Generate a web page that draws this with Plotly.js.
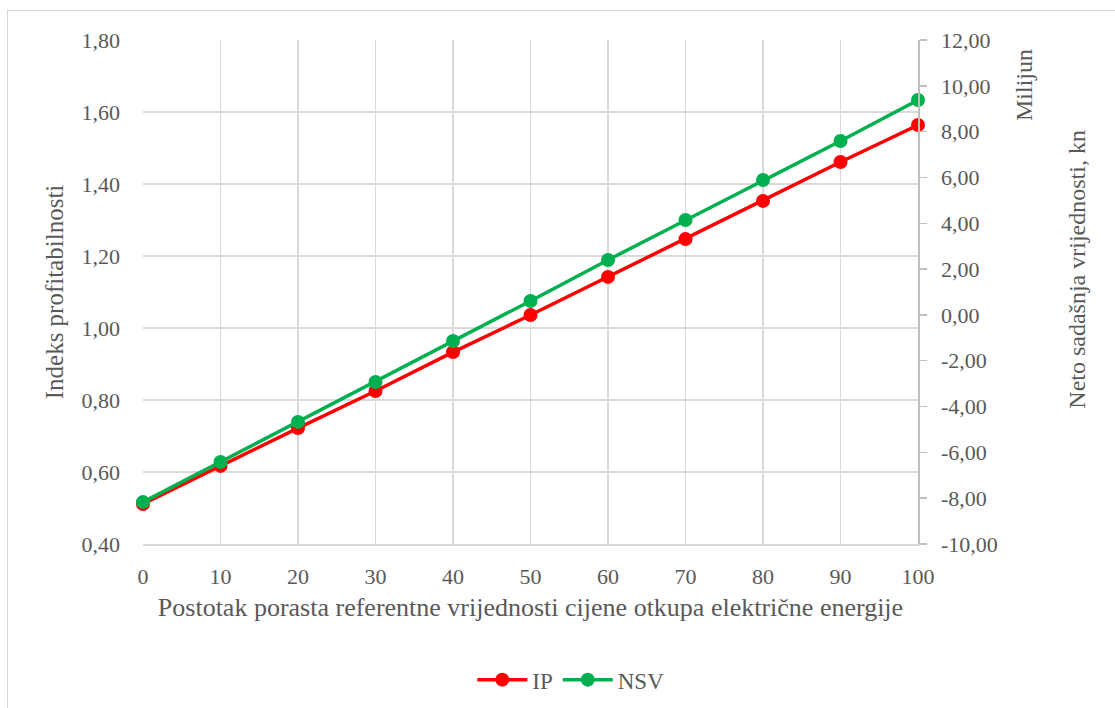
<!DOCTYPE html>
<html>
<head>
<meta charset="utf-8">
<script src="https://cdn.plot.ly/plotly-3.0.1.min.js"></script>
<style>
html,body{margin:0;padding:0;background:#fff;overflow:hidden;}
#frame{position:absolute;left:7px;top:10px;width:1200px;height:800px;border:1px solid #d9d9d9;box-sizing:border-box;}
#chart{position:absolute;left:0;top:0;width:1115px;height:708px;}
</style>
</head>
<body>
<div id="frame"></div>
<div id="chart"></div>
<script>
const categories = [0, 10, 20, 30, 40, 50, 60, 70, 80, 90, 100];
const ipValues = [0.511, 0.617, 0.722, 0.825, 0.933, 1.036, 1.142, 1.247, 1.353, 1.461, 1.564];
const nsvValues = [-8.17, -6.42, -4.67, -2.93, -1.14, 0.61, 2.40, 4.14, 5.89, 7.59, 9.38];
const leftTickVals = [0.4, 0.6, 0.8, 1.0, 1.2, 1.4, 1.6, 1.8];
const leftTickText = ["0,40", "0,60", "0,80", "1,00", "1,20", "1,40", "1,60", "1,80"];
const rightTickVals = [-10, -8, -6, -4, -2, 0, 2, 4, 6, 8, 10, 12];
const rightTickText = ["-10,00", "-8,00", "-6,00", "-4,00", "-2,00", "0,00", "2,00", "4,00", "6,00", "8,00", "10,00", "12,00"];

const FONT = "Liberation Serif";
const TXT = "#595959";

const traces = [
  {x: categories, y: ipValues, name: "IP", type: "scatter", mode: "lines+markers",
   line: {color: "#ff0000", width: 3.5}, marker: {color: "#ff0000", size: 14}, cliponaxis: false, yaxis: "y"},
  {x: categories, y: nsvValues, name: "NSV", type: "scatter", mode: "lines+markers",
   line: {color: "#00b050", width: 3.5}, marker: {color: "#00b050", size: 14}, cliponaxis: false, yaxis: "y2"}
];

const layout = {
  width: 1115, height: 708,
  paper_bgcolor: "rgba(0,0,0,0)", plot_bgcolor: "rgba(0,0,0,0)",
  margin: {l: 143, r: 197, t: 40, b: 164},
  font: {family: FONT, color: TXT, size: 22},
  showlegend: true,
  legend: {orientation: "h", x: 0.552, xanchor: "center", xref: "paper", y: 0.04, yref: "container", yanchor: "middle",
           font: {family: FONT, size: 23, color: TXT}, itemwidth: 50},
  xaxis: {range: [0, 100], tickvals: categories, ticktext: categories.map(String),
          showgrid: true, gridcolor: "#d9d9d9", gridwidth: 1.5, zeroline: false,
          showline: true, linecolor: "#d9d9d9", linewidth: 1.5, ticks: "", ticklabelstandoff: 12,
          tickfont: {family: FONT, size: 22, color: TXT},
          title: {text: "Postotak porasta referentne vrijednosti cijene otkupa električne energije",
                  font: {family: FONT, size: 26, color: TXT}, standoff: 10}},
  yaxis: {range: [0.4, 1.8], tickvals: leftTickVals, ticktext: leftTickText,
          showgrid: true, gridcolor: "#d9d9d9", gridwidth: 1.5, zeroline: false,
          showline: false, ticks: "", ticklabelstandoff: 22,
          tickfont: {family: FONT, size: 22, color: TXT},
          title: {text: "Indeks profitabilnosti", font: {family: FONT, size: 25, color: TXT}, standoff: 10}},
  yaxis2: {range: [-10, 12], tickvals: rightTickVals, ticktext: rightTickText,
           overlaying: "y", side: "right", showgrid: false, zeroline: false,
           showline: true, linecolor: "#bfbfbf", linewidth: 1.5,
           ticks: "outside", ticklen: 7, tickcolor: "#bfbfbf", tickwidth: 1.5, ticklabelstandoff: 10,
           tickfont: {family: FONT, size: 22, color: TXT}},
  annotations: [
    {text: "Milijun", xref: "paper", yref: "paper", x: 1.137, y: 0.911, textangle: -90,
     showarrow: false, font: {family: FONT, size: 24, color: TXT}, xanchor: "center", yanchor: "middle"},
    {text: "Neto sadašnja vrijednosti, kn", xref: "paper", yref: "paper", x: 1.205, y: 0.546, textangle: -90,
     showarrow: false, font: {family: FONT, size: 24, color: TXT}, xanchor: "center", yanchor: "middle"}
  ]
};

Plotly.newPlot("chart", traces, layout, {displayModeBar: false, staticPlot: true});
</script>
</body>
</html>
